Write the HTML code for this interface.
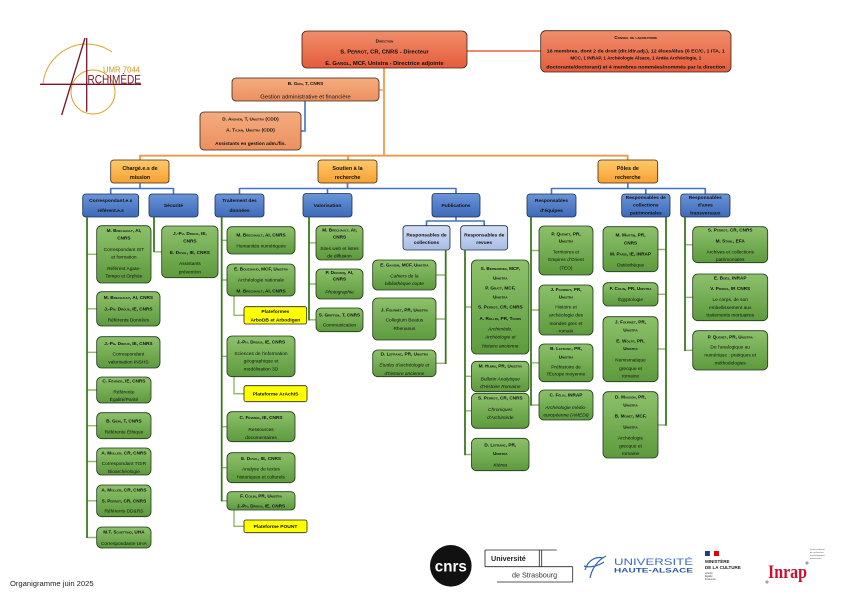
<!DOCTYPE html>
<html><head><meta charset="utf-8">
<style>
html,body{margin:0;padding:0;background:#fff;}
svg{display:block;}
text{font-family:"Liberation Sans",sans-serif;fill:#111;text-anchor:middle;}
.n{font-size:4.7px;font-weight:bold;font-variant:small-caps;}
.d{font-size:4.8px;}
.it{font-size:4.8px;font-style:italic;}
.h{font-size:5.4px;font-weight:bold;}
.b{font-size:4.9px;font-weight:bold;}
.y{font-size:4.9px;font-weight:bold;}
.gr{fill:url(#gGr);stroke:#22361a;stroke-width:0.8;}
.bl{fill:url(#gBl);stroke:#1c2c50;stroke-width:0.8;}
.lb{fill:url(#gLb);stroke:#1c2c50;stroke-width:0.8;}
.or{fill:url(#gOr);stroke:#3a2a10;stroke-width:0.8;}
.yl{fill:#ffff00;stroke:#222;stroke-width:0.8;}
.gl{stroke:#3a7a1f;stroke-width:1.8;fill:none;}
.gb{stroke:#8cba6a;stroke-width:1.4;fill:none;}
.bc{stroke:#4472c4;stroke-width:1.6;fill:none;}
.oc{stroke:#f79646;stroke-width:1.8;fill:none;}
</style></head>
<body>
<svg width="842" height="595" viewBox="0 0 842 595" xmlns="http://www.w3.org/2000/svg">
<defs>
<linearGradient id="gDir" x1="0" y1="0" x2="0" y2="1"><stop offset="0" stop-color="#f08d6a"/><stop offset="1" stop-color="#e55d3c"/></linearGradient>
<linearGradient id="gGest" x1="0" y1="0" x2="0" y2="1"><stop offset="0" stop-color="#f4ac7e"/><stop offset="1" stop-color="#ec9060"/></linearGradient>
<linearGradient id="gOr" x1="0" y1="0" x2="0" y2="1"><stop offset="0" stop-color="#fdc96a"/><stop offset="1" stop-color="#f7a133"/></linearGradient>
<linearGradient id="gBl" x1="0" y1="0" x2="0" y2="1"><stop offset="0" stop-color="#6a95d8"/><stop offset="1" stop-color="#3d69b9"/></linearGradient>
<linearGradient id="gLb" x1="0" y1="0" x2="0" y2="1"><stop offset="0" stop-color="#d2def3"/><stop offset="1" stop-color="#a7bce5"/></linearGradient>
<linearGradient id="gGr" x1="0" y1="0" x2="0" y2="1"><stop offset="0" stop-color="#8dc16b"/><stop offset="1" stop-color="#5d9a3d"/></linearGradient>
</defs>

<!-- ARCHIMEDE logo -->
<g>
<path d="M43,84 A44,44 0 0 1 112,52" fill="none" stroke="#d9a52a" stroke-width="1"/>
<circle cx="93" cy="92" r="22" fill="none" stroke="#d9a52a" stroke-width="1"/>
<line x1="40" y1="84.3" x2="141" y2="84.3" stroke="#7a1428" stroke-width="1.3"/>
<line x1="86.7" y1="38" x2="86.7" y2="111.7" stroke="#7a1428" stroke-width="1.3"/>
<line x1="61.7" y1="115" x2="85" y2="38" stroke="#7a1428" stroke-width="1.3"/>
<text x="103" y="72.5" style="font-size:8.5px;fill:#c8961e;text-anchor:start" textLength="37" lengthAdjust="spacingAndGlyphs">UMR 7044</text>
<text x="87.5" y="83.6" style="font-size:12px;fill:#7a1428;text-anchor:start" textLength="53.5" lengthAdjust="spacingAndGlyphs">RCHIMÈDE</text>
</g>

<!-- Top connectors -->
<line x1="467" y1="51" x2="541" y2="51" stroke="#e8613f" stroke-width="1.6"/>
<path class="oc" d="M384,68 V155.7 M140,155.7 H627.7 M140,155 V160 M348,155 V160 M627.7,155 V160"/>
<line x1="379" y1="90" x2="384" y2="90" stroke="#f0a070" stroke-width="1.5"/>
<path class="bc" d="M305,101 V131 H301" stroke-width="1.2"/>

<!-- Direction -->
<rect x="302" y="31" width="165" height="37" rx="5" fill="url(#gDir)" stroke="#3a2418" stroke-width="0.8"/>
<text x="384.5" y="42.5" style="font-size:4.6px;font-weight:bold;font-variant:small-caps">Direction</text>
<text x="384.5" y="53.5" style="font-size:5.8px;font-weight:bold">S. P<tspan style="font-size:4.5px">ERROT</tspan>, CR, CNRS - Directeur</text>
<text x="384.5" y="65" style="font-size:5.8px;font-weight:bold">E. G<tspan style="font-size:4.5px">ANGL</tspan>, MCF, Unistra - Directrice adjointe</text>

<!-- Conseil -->
<rect x="540.7" y="30.7" width="190.3" height="41.3" rx="5" fill="url(#gDir)" stroke="#3a2418" stroke-width="0.8"/>
<text x="635.8" y="39" style="font-size:4.6px;font-weight:bold;font-variant:small-caps">Conseil de laboratoire</text>
<text x="635.8" y="52.7" style="font-size:4.6px;font-weight:bold" textLength="178" lengthAdjust="spacingAndGlyphs">16 membres, dont 2 de droit (dir./dir.adj.), 12 élues/élus (6 EC/C, 1 ITA, 1</text>
<text x="635.8" y="59.4" style="font-size:4.6px;font-weight:bold">MCC, 1 INRAP, 1 Archéologie Alsace, 1 Antéa Archéologie, 1</text>
<text x="635.8" y="68.4" style="font-size:4.6px;font-weight:bold" textLength="179" lengthAdjust="spacingAndGlyphs">doctorante/doctorant) et 4 membres nommées/nommés par la direction</text>

<!-- Gestion -->
<rect x="232" y="78" width="147" height="23" rx="4" fill="url(#gGest)" stroke="#3a2418" stroke-width="0.8"/>
<text x="305.5" y="85" class="n">B. Gein, T, CNRS</text>
<text x="305.5" y="98.4" style="font-size:5.8px">Gestion administrative et financière</text>

<!-- Assistants -->
<rect x="200" y="112" width="101" height="38" rx="4" fill="url(#gGest)" stroke="#3a2418" stroke-width="0.8"/>
<text x="250.5" y="120.7" class="n">D. Anshen, T, Unistra (CDD)</text>
<text x="250.5" y="131.7" class="n">A. Tajan, Unistra (CDD)</text>
<text x="250.5" y="145" class="b" style="font-size:4.8px">Assistants en gestion adm./fin.</text>

<!-- Level 1 -->
<rect class="or" x="110.7" y="160" width="58.3" height="23" rx="3"/>
<text x="140" y="170" class="h">Chargé.e.s de</text><text x="140" y="179" class="h">mission</text>
<rect class="or" x="318" y="160" width="59" height="23" rx="3"/>
<text x="347.5" y="170" class="h">Soutien à la</text><text x="347.5" y="179" class="h">recherche</text>
<rect class="or" x="598" y="160" width="59.7" height="23" rx="3"/>
<text x="627.8" y="170" class="h">Pôles de</text><text x="627.8" y="179" class="h">recherche</text>

<!-- Blue connectors -->
<path class="bc" d="M140,183 V188.5 M110.7,188.5 H173.5 M110.7,188 V194 M173.5,188 V194"/>
<path class="bc" d="M347.5,183 V188.5 M239.5,188.5 H456 M239.5,188 V194 M327.5,188 V193.5 M456,188 V193.5"/>
<path class="bc" d="M627.8,183 V188.5 M551.5,188.5 H705.3 M551.5,188 V194 M645.8,188 V194 M705.3,188 V194"/>
<path class="bc" d="M456,217 V221 M426.5,221 H484.2 M426.5,220.5 V225.7 M484.2,220.5 V225.7"/>

<!-- Level 2 blue -->
<rect class="bl" x="82.7" y="194" width="56" height="23" rx="3"/>
<text x="110.7" y="201.8" class="b">Correspondant.e.s</text><text x="110.7" y="211.8" class="b">référent.e.s</text>
<rect class="bl" x="149" y="194" width="49" height="23" rx="3"/>
<text x="173.5" y="207" class="b">Sécurité</text>
<rect class="bl" x="215" y="194" width="49" height="23" rx="3"/>
<text x="239.5" y="201.8" class="b">Traitement des</text><text x="239.5" y="211.8" class="b">données</text>
<rect class="bl" x="303" y="193.5" width="49" height="23.5" rx="3"/>
<text x="327.5" y="207" class="b">Valorisation</text>
<rect class="bl" x="432" y="193.5" width="48" height="23.5" rx="3"/>
<text x="456" y="207" class="b">Publications</text>
<rect class="bl" x="527" y="194" width="49" height="23" rx="3"/>
<text x="551.5" y="201.8" class="b">Responsables</text><text x="551.5" y="211.8" class="b">d'équipes</text>
<rect class="bl" x="621.7" y="194" width="48.3" height="23" rx="3"/>
<text x="645.8" y="199" class="b">Responsables de</text><text x="645.8" y="206.7" class="b">collections</text><text x="645.8" y="214.4" class="b">patrimoniales</text>
<rect class="bl" x="680.7" y="194" width="49.3" height="23" rx="3"/>
<text x="705.3" y="199" class="b">Responsables</text><text x="705.3" y="206.7" class="b">d'axes</text><text x="705.3" y="214.4" class="b">transversaux</text>

<rect class="lb" x="403" y="225.7" width="47" height="24.3" rx="3"/>
<text x="426.5" y="236.7" class="b">Responsables de</text><text x="426.5" y="244" class="b">collections</text>
<rect class="lb" x="460.7" y="225.7" width="47" height="24.3" rx="3"/>
<text x="484.2" y="236.7" class="b">Responsables de</text><text x="484.2" y="244" class="b">revues</text>

<!-- Green connectors -->
<path class="gb" d="M87,254.3 H96.7 M87,308.8 H96.7 M87,352.3 H96.7 M87,390 H96.7 M87,425.7 H96.7 M87,461.5 H96.7 M87,500.8 H96.7 M87,537.5 H96.7"/>
<path class="gl" d="M87,217 V538"/>
<path class="gb" d="M154,251.8 H161.7"/>
<path class="gl" d="M154,217 V252"/>
<path class="gb" d="M221.7,240.3 H227 M221.7,280 H227 M221.7,356.3 H227 M221.7,426.7 H227 M221.7,467.7 H227 M221.7,500.8 H227"/>
<path class="gb" d="M234,296 V315.3 H244 M234,376.7 V393.7 H244 M234,510 V526.3 H244"/>
<path class="gl" d="M221.7,217 V501.5"/>
<path class="gb" d="M309,242.8 H316 M309,284 H316 M309,319.8 H316"/>
<path class="gl" d="M309,217 V320.5"/>
<path class="gb" d="M436,275 H445.7 M436,319 H445.7 M436,363.3 H445.7"/>
<path class="gl" d="M445.7,250 V364"/>
<path class="gb" d="M465,307 H471.5 M465,376.3 H471.5 M465,410.8 H471.5 M465,454.5 H471.5"/>
<path class="gl" d="M465,250 V455.2"/>
<path class="gb" d="M531,250.5 H539 M531,310 H539 M531,362.8 H539 M531,405 H539"/>
<path class="gl" d="M531,217 V405.7"/>
<path class="gb" d="M658,249.5 H666 M658,294.3 H666 M658,349 H666 M658,425 H666"/>
<path class="gl" d="M666,217 V425.7"/>
<path class="gb" d="M685,244.7 H692.7 M685,297.3 H692.7 M685,350.3 H692.7"/>
<path class="gl" d="M685,217 V351"/>

<!-- Correspondants column -->
<rect class="gr" x="96.7" y="225.7" width="54.3" height="57.3" rx="5"/>
<text x="123.9" y="232.2" class="n">M. Brechault, AI,</text>
<text x="123.9" y="239.7" class="n">CNRS</text>
<text x="123.9" y="251.2" class="d">Correspondant IST</text>
<text x="123.9" y="258.7" class="d">et formation</text>
<text x="123.9" y="270.2" class="d">Référent Agate-</text>
<text x="123.9" y="277.7" class="d">Tempo et Orphée</text>

<rect class="gr" x="96.7" y="291.7" width="63.3" height="34.3" rx="5"/>
<text x="128.4" y="299" class="n">M. Brechault, AI, CNRS</text>
<text x="128.4" y="310.7" class="n">J.-Ph. Droux, IE, CNRS</text>
<text x="128.4" y="321.7" class="d">Référents Données</text>

<rect class="gr" x="96.7" y="336.7" width="63.3" height="31.3" rx="5"/>
<text x="128.4" y="345" class="n">J.-Ph. Droux, IE, CNRS</text>
<text x="128.4" y="355.7" class="d">Correspondant</text>
<text x="128.4" y="363.4" class="d">valorisation INSHS</text>

<rect class="gr" x="96.7" y="377" width="54.3" height="26" rx="5"/>
<text x="123.9" y="382.6" class="n">C. Février, IE, CNRS</text>
<text x="123.9" y="393.4" class="d">Référente</text>
<text x="123.9" y="401" class="d">Égalité/Parité</text>

<rect class="gr" x="96.7" y="412.7" width="54.3" height="26" rx="5"/>
<text x="123.9" y="422.4" class="n">B. Gein, T, CNRS</text>
<text x="123.9" y="433.4" class="d">Référente Éthique</text>

<rect class="gr" x="96.7" y="448" width="54.3" height="27" rx="5"/>
<text x="123.9" y="454.4" class="n">A. Müller, CR, CNRS</text>
<text x="123.9" y="465" class="d">Correspondant TGIR</text>
<text x="123.9" y="473.2" class="d">Bioarchéologie</text>

<rect class="gr" x="96.7" y="485" width="54.3" height="31.7" rx="5"/>
<text x="123.9" y="491.7" class="n">A. Müller, CR, CNRS</text>
<text x="123.9" y="502.4" class="n">S. Perrot, CR, CNRS</text>
<text x="123.9" y="512.4" class="d">Référents DD&amp;RS</text>

<rect class="gr" x="96.7" y="527" width="54.3" height="21" rx="5"/>
<text x="123.9" y="533.4" class="n">M.T. Schettino, UHA</text>
<text x="123.9" y="545" class="d">Correspondante UHA</text>

<!-- Sécurité -->
<rect class="gr" x="161.7" y="226" width="56.3" height="51.7" rx="5"/>
<text x="189.9" y="235" class="n">J.-Ph. Droux, IE,</text>
<text x="189.9" y="242.7" class="n">CNRS</text>
<text x="189.9" y="254" class="n">E. Duval, IE, CNRS</text>
<text x="189.9" y="265" class="d">Assistants</text>
<text x="189.9" y="273.4" class="d">prévention</text>

<!-- Traitement des données -->
<rect class="gr" x="227" y="226.7" width="68" height="27.3" rx="5"/>
<text x="261" y="236.6" class="n">M. Brechault, AI, CNRS</text>
<text x="261" y="247.6" class="d">Humanités numériques</text>

<rect class="gr" x="227" y="264" width="68" height="32" rx="5"/>
<text x="261" y="270.6" class="n">E. Bouchaud, MCF, Unistra</text>
<text x="261" y="281.6" class="d">Archéologie nationale</text>
<text x="261" y="292.3" class="n">M. Brechault, AI, CNRS</text>

<rect class="yl" x="244" y="306.7" width="62.7" height="17.3" rx="2"/>
<text x="275.4" y="312.8" class="y">Plateformes</text>
<text x="275.4" y="321.5" class="y">ArboDB et Arbodigen</text>

<rect class="gr" x="227" y="336" width="68" height="40.7" rx="5"/>
<text x="261" y="343.3" class="n">J.-Ph. Droux, IE, CNRS</text>
<text x="261" y="354.9" class="d">Sciences de l'information</text>
<text x="261" y="362.6" class="d">géographique et</text>
<text x="261" y="370.6" class="d">modélisation 3D</text>

<rect class="yl" x="244" y="385.7" width="63" height="16" rx="2"/>
<text x="275.5" y="395.4" class="y">Plateforme ArAchIS</text>

<rect class="gr" x="227" y="411.7" width="68" height="30" rx="5"/>
<text x="261" y="418.9" class="n">C. Février, IE, CNRS</text>
<text x="261" y="430.9" class="d">Ressources</text>
<text x="261" y="438.9" class="d">documentaires</text>

<rect class="gr" x="227" y="452.7" width="68" height="30" rx="5"/>
<text x="261" y="459.9" class="n">E. Duval, IE, CNRS</text>
<text x="261" y="470.6" class="d">Analyse de textes</text>
<text x="261" y="478.3" class="d">historiques et culturels</text>

<rect class="gr" x="227" y="491.7" width="68" height="18.3" rx="4"/>
<text x="261" y="497.3" class="n">F. Colin, PR, Unistra</text>
<text x="261" y="507.3" class="n">J.-Ph. Droux, IE, CNRS</text>

<rect class="yl" x="244" y="520" width="63" height="12.7" rx="2"/>
<text x="275.5" y="528" class="y">Plateforme POUNT</text>

<!-- Valorisation -->
<rect class="gr" x="316" y="225.7" width="47" height="34.3" rx="5"/>
<text x="339.5" y="231.6" class="n">M. Brechault, AI,</text>
<text x="339.5" y="238.3" class="n">CNRS</text>
<text x="339.5" y="249.9" class="d">Sites web et listes</text>
<text x="339.5" y="257.3" class="d">de diffusion</text>

<rect class="gr" x="316" y="269" width="47" height="30" rx="5"/>
<text x="339.5" y="273.9" class="n">P. Decorq, AI,</text>
<text x="339.5" y="280.6" class="n">CNRS</text>
<text x="339.5" y="293.3" class="it">Photographie</text>

<rect class="gr" x="316" y="308" width="47" height="23.7" rx="5"/>
<text x="339.5" y="316.6" class="n">S. Griffon, T, CNRS</text>
<text x="339.5" y="326.6" class="d">Communication</text>

<!-- Responsables de collections -->
<rect class="gr" x="372.7" y="260" width="63.3" height="30" rx="5"/>
<text x="404.4" y="266.6" class="n">E. Gaudin, MCF, Unistra</text>
<text x="404.4" y="277.3" class="it">Cahiers de la</text>
<text x="404.4" y="284.9" class="it">bibliothèque copte</text>

<rect class="gr" x="372.7" y="298" width="63.3" height="42" rx="5"/>
<text x="404.4" y="311.6" class="n">J. Fournet, PR, Unistra</text>
<text x="404.4" y="321.6" class="d">Collegium Beatus</text>
<text x="404.4" y="329.9" class="d">Rhenanus</text>

<rect class="gr" x="372.7" y="350" width="63.3" height="26.7" rx="5"/>
<text x="404.4" y="355.6" class="n">D. Lefranc, PR, Unistra</text>
<text x="404.4" y="366.6" class="it">Études d'archéologie et</text>
<text x="404.4" y="374.9" class="it">d'histoire ancienne</text>

<!-- Responsables de revues -->
<rect class="gr" x="471.5" y="260" width="57.5" height="94" rx="5"/>
<text x="500.3" y="269.9" class="n">S. Bernardini, MCF,</text>
<text x="500.3" y="279.3" class="n">Unistra</text>
<text x="500.3" y="289.3" class="n">P. Gratt, MCF,</text>
<text x="500.3" y="298.3" class="n">Unistra</text>
<text x="500.3" y="308.3" class="n">S. Perrot, CR, CNRS</text>
<text x="500.3" y="319.9" class="n">A. Rollin, PR, Tours</text>
<text x="500.3" y="330.6" class="it">Archimède.</text>
<text x="500.3" y="338.3" class="it">Archéologie et</text>
<text x="500.3" y="347.3" class="it">histoire ancienne</text>

<rect class="gr" x="471.5" y="361.3" width="57.5" height="30.4" rx="5"/>
<text x="500.3" y="367.6" class="n">M. Humm, PR, Unistra</text>
<text x="500.3" y="380.4" class="it">Bulletin Analytique</text>
<text x="500.3" y="388" class="it">d'Histoire Romaine</text>

<rect class="gr" x="471.5" y="393.3" width="57.5" height="35" rx="5"/>
<text x="500.3" y="399.6" class="n">S. Perrot, CR, CNRS</text>
<text x="500.3" y="411" class="it">Chroniques</text>
<text x="500.3" y="419" class="it">d'Archimède</text>

<rect class="gr" x="471.5" y="438.3" width="57.5" height="32.4" rx="5"/>
<text x="500.3" y="446.6" class="n">D. Lefranc, PR,</text>
<text x="500.3" y="454.9" class="n">Unistra</text>
<text x="500.3" y="466.6" class="it">Ktèma</text>

<!-- Responsables d'équipes -->
<rect class="gr" x="539" y="226" width="54" height="49" rx="5"/>
<text x="566" y="235.6" class="n">P. Quenet, PR,</text>
<text x="566" y="242.6" class="n">Unistra</text>
<text x="566" y="253.3" class="d">Territoires et</text>
<text x="566" y="260.9" class="d">Empires d'Orient</text>
<text x="566" y="269.3" class="d">(TEO)</text>

<rect class="gr" x="539" y="285" width="54" height="50" rx="5"/>
<text x="566" y="291.2" class="n">J. Fournet, PR,</text>
<text x="566" y="298.3" class="n">Unistra</text>
<text x="566" y="308.3" class="d">Histoire et</text>
<text x="566" y="316.6" class="d">archéologie des</text>
<text x="566" y="324.9" class="d">mondes grec et</text>
<text x="566" y="332.4" class="d">romain</text>

<rect class="gr" x="539" y="344" width="54" height="37.7" rx="5"/>
<text x="566" y="349.9" class="n">B. Lefranc, PR,</text>
<text x="566" y="358.3" class="n">Unistra</text>
<text x="566" y="368.3" class="d">Préhistoire de</text>
<text x="566" y="375.5" class="d">l'Europe moyenne</text>

<rect class="gr" x="539" y="390" width="54" height="30" rx="5"/>
<text x="566" y="396.6" class="n">C. Féliu, INRAP</text>
<text x="566" y="408.9" class="it">Archéologie médio-</text>
<text x="566" y="416.6" class="it">européenne (AMEDI)</text>

<!-- Collections patrimoniales -->
<rect class="gr" x="603" y="226.7" width="55" height="45" rx="5"/>
<text x="630.5" y="236.6" class="n">M. Martin, PR,</text>
<text x="630.5" y="244.3" class="n">CNRS</text>
<text x="630.5" y="255.6" class="n">M. Paris, IE, INRAP</text>
<text x="630.5" y="266.6" class="d">Ostéothèque</text>

<rect class="gr" x="603" y="282.7" width="55" height="23.3" rx="5"/>
<text x="630.5" y="289.9" class="n">F. Colin, PR, Unistra</text>
<text x="630.5" y="300.9" class="d">Égyptologie</text>

<rect class="gr" x="603" y="316.7" width="55" height="65" rx="5"/>
<text x="630.5" y="323.3" class="n">J. Fournet, PR,</text>
<text x="630.5" y="331.6" class="n">Unistra</text>
<text x="630.5" y="342.3" class="n">E. Wolff, PR,</text>
<text x="630.5" y="349.9" class="n">Unistra</text>
<text x="630.5" y="361.6" class="d">Numismatique</text>
<text x="630.5" y="369.9" class="d">grecque et</text>
<text x="630.5" y="377.6" class="d">romaine</text>

<rect class="gr" x="603" y="391.7" width="55" height="66.3" rx="5"/>
<text x="630.5" y="398.3" class="n">D. Masson, PR,</text>
<text x="630.5" y="406.6" class="n">Unistra</text>
<text x="630.5" y="417.3" class="n">B. Monet, MCF,</text>
<text x="630.5" y="428.3" class="n">Unistra</text>
<text x="630.5" y="439.3" class="d">Archéologie</text>
<text x="630.5" y="447.3" class="d">grecque et</text>
<text x="630.5" y="454.9" class="d">romaine</text>

<!-- Axes transversaux -->
<rect class="gr" x="692.7" y="226.7" width="75" height="36" rx="5"/>
<text x="730.2" y="231.6" class="n">S. Perrot, CR, CNRS</text>
<text x="730.2" y="242.6" class="n">M. Stahl, EFA</text>
<text x="730.2" y="253.3" class="d">Archives et collections</text>
<text x="730.2" y="260.9" class="d">patrimoniales</text>

<rect class="gr" x="692.7" y="274" width="75" height="46.7" rx="5"/>
<text x="730.2" y="279.3" class="n">E. Boës, INRAP</text>
<text x="730.2" y="289.9" class="n">V. Prioux, IR CNRS</text>
<text x="730.2" y="300.9" class="d">Le corps, de son</text>
<text x="730.2" y="308.9" class="d">embellissement aux</text>
<text x="730.2" y="316.6" class="d">traitements mortuaires</text>

<rect class="gr" x="692.7" y="330.7" width="75" height="39.3" rx="5"/>
<text x="730.2" y="338.3" class="n">P. Quenet, PR, Unistra</text>
<text x="730.2" y="348.3" class="d">De l'analogique au</text>
<text x="730.2" y="356.6" class="d">numérique : pratiques et</text>
<text x="730.2" y="364.3" class="d">méthodologies</text>

<!-- Footer -->
<text x="10" y="586" style="font-size:7.6px;text-anchor:start;fill:#222">Organigramme juin 2025</text>

<!-- CNRS -->
<circle cx="450.8" cy="565.8" r="20.8" fill="#111"/>
<text x="450.8" y="571.5" style="font-size:16px;fill:#fff;font-weight:bold" textLength="32" lengthAdjust="spacingAndGlyphs">cnrs</text>

<!-- Unistra -->
<g stroke="#222" stroke-width="0.8" fill="none">
<path d="M485,550 H556.7 M485,550 V566.7 M485,566.7 H572.7 M539.3,550 V566.7 M541.7,550 V566.7 M572.7,566.7 V582 M497,582 H572.7"/>
</g>
<text x="491" y="561" style="font-size:7.2px;font-weight:bold;text-anchor:start;fill:#222">Université</text>
<text x="512" y="577.5" style="font-size:7.2px;text-anchor:start;fill:#333">de Strasbourg</text>

<!-- UHA -->
<path d="M585,570 C588,560 596,556 603,558 M590,578 C592,568 598,560 606,556 M584,566 C590,568 598,566 604,562" stroke="#2f62b8" stroke-width="1.2" fill="none"/>
<text x="614" y="565" style="font-size:9px;fill:#3b6cc4;text-anchor:start" textLength="79" lengthAdjust="spacingAndGlyphs">UNIVERSITÉ</text>
<text x="614" y="572.5" style="font-size:6px;font-weight:bold;fill:#2a56a8;text-anchor:start" textLength="79" lengthAdjust="spacingAndGlyphs">HAUTE-ALSACE</text>

<!-- Ministere -->
<rect x="705" y="551" width="5" height="5" fill="#1f3a93"/>
<rect x="710" y="551" width="4" height="5" fill="#fff" stroke="#ddd" stroke-width="0.2"/>
<rect x="714" y="551" width="5" height="5" fill="#e1000f"/>
<text x="705" y="563" style="font-size:4.5px;font-weight:bold;text-anchor:start;fill:#222">MINISTÈRE</text>
<text x="705" y="569" style="font-size:4.5px;font-weight:bold;text-anchor:start;fill:#222">DE LA CULTURE</text>
<text x="705" y="574" style="font-size:2.5px;text-anchor:start;fill:#444">Liberté</text>
<text x="705" y="577" style="font-size:2.5px;text-anchor:start;fill:#444">Égalité</text>
<text x="705" y="580" style="font-size:2.5px;text-anchor:start;fill:#444">Fraternité</text>

<!-- Inrap -->
<text x="768" y="578" style="font-family:'Liberation Serif',serif;font-size:19px;font-weight:bold;fill:#c8102e;text-anchor:start" textLength="39" lengthAdjust="spacingAndGlyphs">Inrap</text>
<path d="M805,563 h4 M807,561 v4 M765,582 h4 M767,580 v4" stroke="#333" stroke-width="0.5"/>
<text x="810" y="550" style="font-size:2.2px;text-anchor:start;fill:#555">Institut national</text>
<text x="810" y="553" style="font-size:2.2px;text-anchor:start;fill:#555">de recherches</text>
<text x="810" y="556" style="font-size:2.2px;text-anchor:start;fill:#555">archéologiques</text>
<text x="810" y="559" style="font-size:2.2px;text-anchor:start;fill:#555">préventives</text>
</svg>
</body></html>
